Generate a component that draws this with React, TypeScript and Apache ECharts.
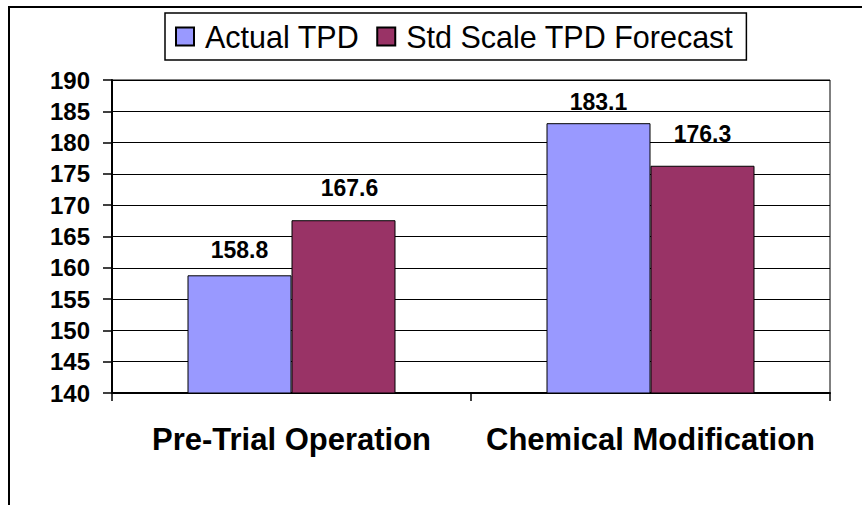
import React, { useEffect, useRef } from "react";
import * as echarts from "echarts";

const categories = ["Pre-Trial Operation", "Chemical Modification"];
const actualTPD = [158.8, 183.1];
const forecastTPD = [167.6, 176.3];
const seriesNames = ["Actual TPD", "Std Scale TPD Forecast"];
const yMin = 140;
const yMax = 190;
const yStep = 5;

const FONT = "'Liberation Sans', Arial, sans-serif";

export default function App() {
  const ref = useRef<HTMLDivElement>(null);
  useEffect(() => {
    if (!ref.current) return;
    const chart = echarts.init(ref.current, null, { renderer: "svg" });
    const distA = [14, 10];
    const distB = [21, 20];
    const offB = [6, 0];
    chart.setOption({
      animation: false,
      backgroundColor: "#fff",
      textStyle: { fontFamily: FONT },
      graphic: [
        {
          type: "rect",
          shape: { x: 9, y: 7, width: 1000, height: 1000 },
          style: { fill: "none", stroke: "#000", lineWidth: 2 },
          silent: true,
        },
      ],
      legend: {
        left: 165,
        top: 13,
        orient: "horizontal",
        selectedMode: false,
        itemWidth: 18,
        itemHeight: 18,
        itemGap: 17,
        padding: [8, 13, 8, 10],
        borderColor: "#000",
        borderWidth: 1.5,
        icon: "rect",
        textStyle: {
          fontFamily: FONT,
          fontSize: 30.5,
          color: "#000",
          padding: [0, 0, 0, 6],
        },
        data: seriesNames,
      },
      grid: {
        left: 112,
        right: 32,
        top: 80,
        bottom: 112,
        show: true,
        borderColor: "#000",
        borderWidth: 1,
        backgroundColor: "transparent",
      },
      xAxis: {
        type: "category",
        data: categories,
        boundaryGap: true,
        axisLine: { show: true, lineStyle: { color: "#000", width: 2 } },
        axisTick: { show: true, length: 8, lineStyle: { color: "#000", width: 1.5 } },
        axisLabel: {
          interval: 0,
          hideOverlap: false,
          margin: 31,
          fontFamily: FONT,
          fontSize: 31,
          fontWeight: "bold",
          color: "#000",
        },
      },
      yAxis: {
        type: "value",
        min: yMin,
        max: yMax,
        interval: yStep,
        axisLine: { show: true, lineStyle: { color: "#000", width: 2 } },
        axisTick: { show: true, length: 9, lineStyle: { color: "#000", width: 1.5 } },
        splitLine: { show: true, lineStyle: { color: "#000", width: 1 } },
        axisLabel: {
          margin: 22,
          fontFamily: FONT,
          fontSize: 24,
          fontWeight: "bold",
          color: "#000",
        },
      },
      series: [
        {
          name: seriesNames[0],
          type: "bar",
          barWidth: 104,
          barGap: "0%",
          itemStyle: { color: "#9999FF", borderColor: "#000", borderWidth: 1 },
          label: {
            show: true,
            position: "top",
            fontFamily: FONT,
            fontSize: 23,
            fontWeight: "bold",
            color: "#000",
          },
          data: actualTPD.map((v, i) => ({ value: v, label: { distance: distA[i] } })),
        },
        {
          name: seriesNames[1],
          type: "bar",
          barWidth: 104,
          barGap: "0%",
          itemStyle: { color: "#993366", borderColor: "#000", borderWidth: 1 },
          label: {
            show: true,
            position: "top",
            fontFamily: FONT,
            fontSize: 23,
            fontWeight: "bold",
            color: "#000",
          },
          data: forecastTPD.map((v, i) => ({
            value: v,
            label: { distance: distB[i], offset: [offB[i], 0] },
          })),
        },
      ],
    });
    return () => chart.dispose();
  }, []);
  return (
    <div
      ref={ref}
      style={{ position: "absolute", left: 0, top: 0, width: 862, height: 505 }}
    />
  );
}
